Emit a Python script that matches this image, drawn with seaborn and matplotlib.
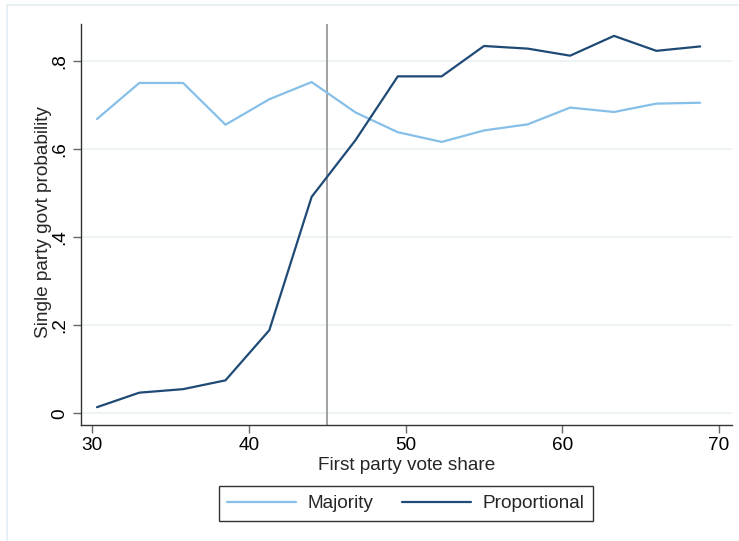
import matplotlib
matplotlib.use("Agg")
import matplotlib.pyplot as plt
from matplotlib.patches import Rectangle
import seaborn as sns
import pandas as pd

# Bin midpoints of the first party's vote share
vote_share = [30.3, 33.0, 35.8, 38.5, 41.3, 44.0, 46.8, 49.5,
              52.3, 55.0, 57.8, 60.5, 63.3, 66.0, 68.8]

# Probability of a single-party government by electoral system
majority = [0.669, 0.751, 0.751, 0.656, 0.714, 0.753, 0.684, 0.639,
            0.617, 0.643, 0.657, 0.695, 0.685, 0.704, 0.706]
proportional = [0.014, 0.047, 0.055, 0.075, 0.189, 0.492, 0.621, 0.766,
                0.766, 0.835, 0.829, 0.813, 0.858, 0.824, 0.834]

series_names = ["Majority", "Proportional"]
y_ticks = [0, 0.2, 0.4, 0.6, 0.8]
y_tick_labels = ["0", ".2", ".4", ".6", ".8"]
x_ticks = [30, 40, 50, 60, 70]
threshold = 45

df = pd.concat([
    pd.DataFrame({"share": vote_share, "prob": majority, "system": series_names[0]}),
    pd.DataFrame({"share": vote_share, "prob": proportional, "system": series_names[1]}),
])

sns.set_theme(style="white")
plt.rcParams["font.family"] = ["Liberation Sans", "DejaVu Sans"]

W, H = 739, 541
fig = plt.figure(figsize=(W / 100, H / 100), dpi=100)
fig.patch.set_facecolor("white")

# light outer frame
fig.patches.append(Rectangle((7 / W, -0.05), 1.2, 1 - 5 / H + 0.05,
                             transform=fig.transFigure, fill=False,
                             edgecolor="#e3edf2", linewidth=1.2))

ax = fig.add_axes([81 / W, 1 - 425 / H, (732 - 81) / W, (425 - 24) / H])

palette = {"Majority": "#86bfe8", "Proportional": "#1f4a75"}
sns.lineplot(data=df, x="share", y="prob", hue="system", palette=palette,
             linewidth=1.6, ax=ax, legend=False)

ax.axvline(threshold, color="#9a9a9a", linewidth=1.3, zorder=1)

ax.set_xlim(29.28, 70.83)
ax.set_ylim(-0.0265, 0.885)
ax.set_xticks(x_ticks)
ax.set_yticks(y_ticks)
ax.set_yticklabels(y_tick_labels, rotation=90, va="center")
for y in y_ticks:
    ax.axhline(y, color="#e9f1f3", linewidth=1.2, zorder=0)

for s in ["top", "right"]:
    ax.spines[s].set_visible(False)
for s in ["left", "bottom"]:
    ax.spines[s].set_color("#333333")
    ax.spines[s].set_linewidth(1.0)

ax.tick_params(axis="both", which="major", length=6, width=1.0,
               color="#666666", labelsize=13.7, labelcolor="black",
               bottom=True, left=True, pad=3)

ax.set_xlabel("First party vote share", fontsize=13.7, labelpad=2)
ax.set_ylabel("Single party govt probability", fontsize=13.7, va="center")
ax.yaxis.set_label_coords(-0.058, 0.505)

handles = [plt.Line2D([], [], color=palette[n], linewidth=1.6) for n in series_names]
leg = fig.legend(handles, series_names, loc="center",
                 bbox_to_anchor=(406 / W, 1 - 503.5 / H), ncol=2,
                 fontsize=13.7, frameon=True, fancybox=False,
                 edgecolor="black", handlelength=3.6, columnspacing=1.5,
                 handletextpad=0.63, borderpad=0.45, borderaxespad=0)
leg.get_frame().set_linewidth(1.0)

fig.savefig("out.png", dpi=100, facecolor="white")
